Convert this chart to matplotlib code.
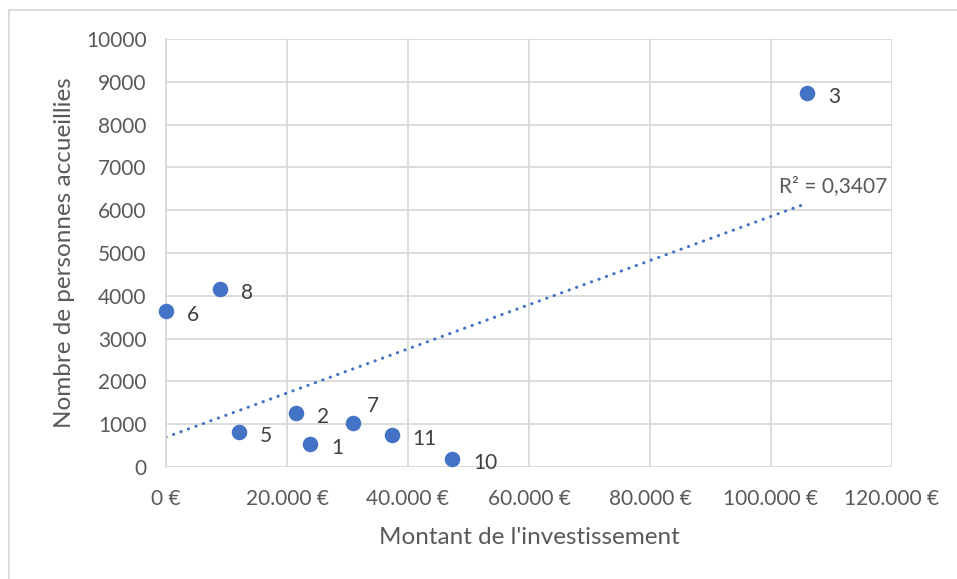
import numpy as np
import matplotlib.pyplot as plt
from matplotlib.lines import Line2D

# données
projets = ['1', '2', '3', '5', '6', '7', '8', '10', '11']
investissement = [23850, 21440, 105900, 12070, 0, 30960, 8930, 47270, 37300]
personnes = [530, 1255, 8730, 810, 3650, 1035, 4160, 190, 755]
r2_label = 'R² = 0,3407'

gris = '#595959'
bleu = '#4472C4'
plt.rcParams['font.family'] = ['Lato', 'DejaVu Sans']

fig = plt.figure(figsize=(9.57, 5.79), dpi=100)
ax = fig.add_axes([166/957, 1 - 467/579, (892-166)/957, (467-39)/579])

ax.scatter(investissement, personnes, s=125, color=bleu, zorder=3, linewidths=0, clip_on=False)

# étiquettes des points
for x, y, p in zip(investissement, personnes, projets):
    dx, dy = 21, -4
    if p == '7':
        dx, dy = 14, 17
    ax.annotate(p, (x, y), xytext=(dx, dy), textcoords='offset pixels',
                fontsize=15, color='#404040', va='center', ha='left')

# courbe de tendance linéaire
a, b = np.polyfit(investissement, personnes, 1)
xs = np.array([0, max(investissement)])
ax.plot(xs, a*xs + b, color=bleu, lw=2.2, linestyle=(0, (0.1, 2.5)),
        dash_capstyle='round', zorder=2)
ax.text(101400, 6330, r2_label, fontsize=15, color=gris, ha='left', va='bottom')

ax.set_xlim(0, 120000)
ax.set_ylim(0, 10000)
ax.set_xticks(range(0, 120001, 20000))
ax.set_xticklabels(['0 €'] + [f'{v:,} €'.replace(',', '.') for v in range(20000, 120001, 20000)])
ax.set_yticks(range(0, 10001, 1000))
ax.tick_params(length=0, labelsize=15, colors=gris)
ax.tick_params(axis='x', pad=16)
ax.tick_params(axis='y', pad=14)
ax.grid(True, color='#D9D9D9', lw=1.3)
ax.set_axisbelow(True)
for s in ax.spines.values():
    s.set_visible(False)
ax.spines['left'].set_visible(True)
ax.spines['left'].set_color('#D9D9D9')
ax.spines['left'].set_linewidth(1.3)

ax.set_xlabel("Montant de l'investissement", fontsize=17.5, color=gris, labelpad=13)
ax.set_ylabel('Nombre de personnes accueillies', fontsize=17.5, color=gris, labelpad=8)

# bordure de la zone du graphique
fig.add_artist(Line2D([9/957, 1], [1 - 10/579, 1 - 10/579], color='#D9D9D9', lw=1.3))
fig.add_artist(Line2D([9/957, 9/957], [0, 1 - 10/579], color='#D9D9D9', lw=1.3))

fig.savefig('out.png', dpi=100)
